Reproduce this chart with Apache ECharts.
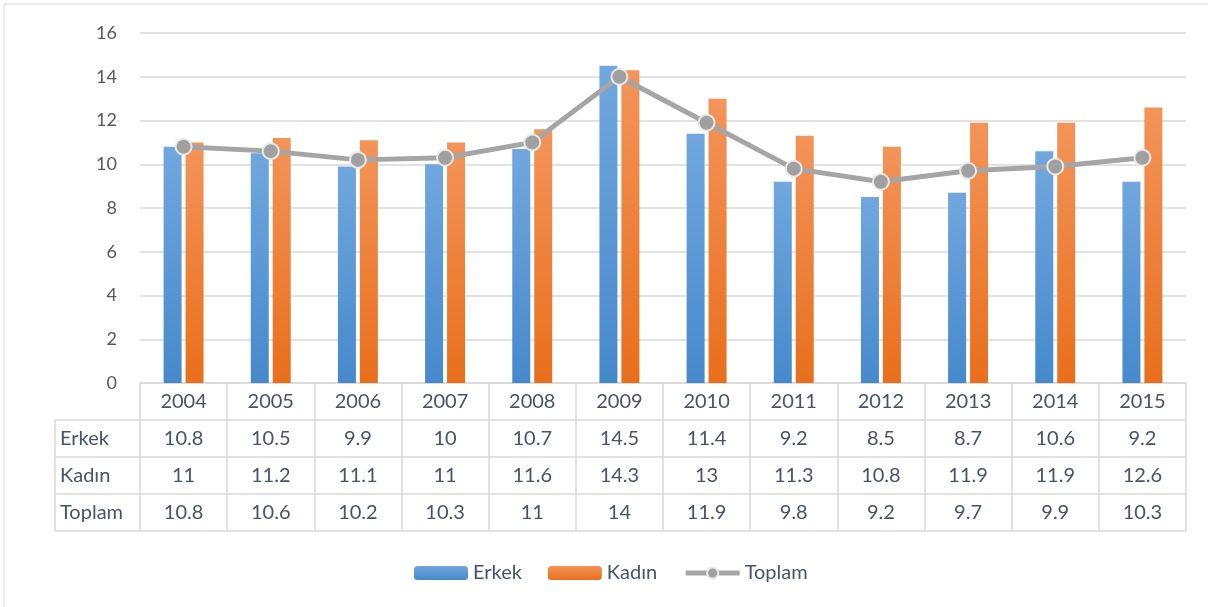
<!DOCTYPE html>
<html>
<head>
<meta charset="utf-8">
<script src="https://cdn.jsdelivr.net/npm/echarts@6/dist/echarts.min.js"></script>
<style>
  html, body { margin: 0; padding: 0; background: #fff; }
  #chart { width: 1208px; height: 607px; }
</style>
</head>
<body>
<div id="chart"></div>
<script>
var years = ['2004','2005','2006','2007','2008','2009','2010','2011','2012','2013','2014','2015'];
var erkek = [10.8, 10.5, 9.9, 10, 10.7, 14.5, 11.4, 9.2, 8.5, 8.7, 10.6, 9.2];
var kadin = [11, 11.2, 11.1, 11, 11.6, 14.3, 13, 11.3, 10.8, 11.9, 11.9, 12.6];
var toplam = [10.8, 10.6, 10.2, 10.3, 11, 14, 11.9, 9.8, 9.2, 9.7, 9.9, 10.3];
var rowNames = ['Erkek', 'Kadın', 'Toplam'];

var font = 'Lato, "Open Sans", sans-serif';
var textColor = '#44546a';
var lineColor = '#d9d9d9';

// grid / table layout
var gLeft = 140, gRight = 1186, gTop = 33, gBottom = 383, rowH = 37, tableLeft = 55;

var myChart = echarts.init(document.getElementById('chart'));

// table lines + row labels
var graphics = [
    { type: 'rect', shape: { x: 4, y: 4, width: 1220, height: 620 }, style: { fill: 'none', stroke: '#d9d9d9', lineWidth: 1 }, silent: true },
    { type: 'line', shape: { x1: tableLeft, y1: gBottom + rowH, x2: tableLeft, y2: gBottom + rowH * 4 }, style: { stroke: lineColor, lineWidth: 1.5 } }
];
for (var r = 1; r <= 4; r++) {
    graphics.push({ type: 'line', shape: { x1: tableLeft, y1: gBottom + rowH * r, x2: gRight, y2: gBottom + rowH * r }, style: { stroke: lineColor, lineWidth: 1.5 } });
}
rowNames.forEach(function (n, i) {
    graphics.push({ type: 'text', x: tableLeft + 5, y: gBottom + rowH * (i + 1) + rowH / 2,
        style: { text: n, font: '20px ' + font, fill: textColor, textVerticalAlign: 'middle', textAlign: 'left' } });
});

var option = {
    animation: false,
    textStyle: { fontFamily: font },
    grid: { left: gLeft, right: 1208 - gRight, top: gTop, bottom: 607 - gBottom, containLabel: false },
    legend: {
        data: ['Erkek', 'Kadın', { name: 'Toplam', lineStyle: { width: 5 } }],
        left: 409, top: 558,
        itemWidth: 54, itemHeight: 14, itemGap: 26,
        textStyle: { fontSize: 20, color: textColor, fontFamily: font }
    },
    xAxis: {
        type: 'category',
        data: years,
        axisLine: { lineStyle: { color: lineColor, width: 1.5 } },
        axisTick: { show: true, length: rowH * 4, lineStyle: { color: lineColor, width: 1.5 }, interval: 0 },
        axisLabel: {
            interval: 0, margin: 0, fontSize: 20, color: textColor, lineHeight: rowH,
            formatter: function (v, i) {
                return [v, erkek[i], kadin[i], toplam[i]].join('\n');
            }
        }
    },
    yAxis: {
        type: 'value', min: 0, max: 16, interval: 2,
        axisLine: { show: false }, axisTick: { show: false },
        axisLabel: { fontSize: 18, color: '#595959', margin: 23 },
        splitLine: { lineStyle: { color: lineColor, width: 1.5 } }
    },
    graphic: graphics,
    series: [
        {
            name: 'Erkek', type: 'bar', data: erkek, barWidth: 18, barGap: '22%',
            itemStyle: { color: new echarts.graphic.LinearGradient(0, 0, 0, 1, [
                { offset: 0, color: '#71a7de' }, { offset: 1, color: '#4689cb' }]) }
        },
        {
            name: 'Kadın', type: 'bar', data: kadin, barWidth: 18,
            itemStyle: { color: new echarts.graphic.LinearGradient(0, 0, 0, 1, [
                { offset: 0, color: '#f3945a' }, { offset: 1, color: '#e86f1c' }]) }
        },
        {
            name: 'Toplam', type: 'line', data: toplam, z: 5,
            symbol: 'circle', symbolSize: 16,
            lineStyle: { color: '#a5a5a5', width: 5 },
            itemStyle: { color: '#a0a0a0', borderColor: '#e8e8e8', borderWidth: 2 }
        }
    ]
};

myChart.setOption(option);
</script>
</body>
</html>
